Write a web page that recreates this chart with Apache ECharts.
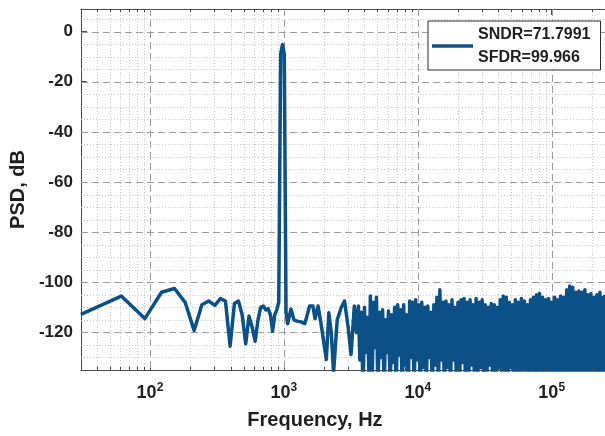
<!DOCTYPE html>
<html>
<head>
<meta charset="utf-8">
<script src="https://cdn.jsdelivr.net/npm/echarts@6/dist/echarts.min.js"></script>
<style>
html, body { margin: 0; padding: 0; background: #fff; }
#chart { width: 605px; height: 436px; }
</style>
</head>
<body>
<div id="chart"></div>
<script>
// FFT bin width: 500 kS/s sampled, 16384-point FFT
const BIN_HZ = 500000 / 16384;

// Low-frequency bins (individually resolved part of the spectrum)
const lowBins = [1, 2, 3, 4, 5, 6, 7, 8, 9, 10, 11, 12, 13, 14, 15, 16, 17, 18, 19, 20,
  21, 22, 23, 24, 25, 26, 27, 28, 29, 30, 31, 32, 33, 34, 35, 37, 39, 41, 44, 47,
  51, 54, 56, 59, 62, 68, 71, 74, 77, 82, 88, 93, 99, 104, 110, 114];
const lowDb = [-112.8, -105.5, -114.5, -104, -102.5, -108, -119.2, -109, -107.5, -109.2,
  -106.5, -107.5, -125.5, -108.5, -107.5, -113, -124.5, -113.5, -118, -123.5,
  -115, -110, -109.5, -111, -110.5, -113, -119.5, -113, -111, -108,
  -9, -5.2, -9, -112, -116.5, -110.7, -115, -115.5, -115.8, -116.5,
  -109.5, -109.5, -114.5, -109.5, -116.3, -130.8, -112.2, -120, -136, -115,
  -110, -107.5, -118, -128.8, -109.5, -120];

// Noise floor bins above ~3.5 kHz (alternating local maxima / minima)
const noiseBins = [118, 121, 124, 128, 131, 134, 138, 142, 145, 149,
  153, 157, 161, 165, 170, 174, 179, 184, 188, 193,
  198, 204, 209, 214, 220, 226, 232, 238, 244, 251,
  257, 264, 271, 278, 285, 293, 300, 308, 316, 325,
  333, 342, 351, 360, 370, 379, 389, 400, 410, 421,
  432, 443, 455, 467, 479, 492, 505, 518, 532, 546,
  560, 575, 590, 605, 621, 638, 654, 672, 689, 707,
  726, 745, 765, 785, 805, 827, 848, 871, 893, 917,
  941, 966, 991, 1017, 1044, 1071, 1100, 1128, 1158, 1189,
  1220, 1252, 1285, 1319, 1353, 1389, 1425, 1463, 1501, 1541,
  1581, 1623, 1666, 1709, 1754, 1801, 1848, 1897, 1946, 1998,
  2050, 2104, 2159, 2216, 2274, 2334, 2396, 2459, 2523, 2590,
  2658, 2728, 2799, 2873, 2949, 3026, 3106, 3188, 3271, 3357,
  3446, 3536, 3629, 3725, 3823, 3923, 4026, 4132, 4241, 4353,
  4467, 4585, 4705, 4829, 4956, 5086, 5220, 5357, 5498, 5643,
  5791, 5943, 6100, 6260, 6425, 6594, 6767, 6945, 7128, 7315,
  7508, 7705, 7908, 8116, 8192];
const noiseDb = [
  -109.5, -131, -112, -145, -110, -128, -114, -140, -105.5, -145,
  -108, -126, -106, -145, -112, -130, -111, -145, -115, -128,
  -111.5, -145, -113, -132, -110, -145, -109, -129, -111, -145,
  -109, -133, -113, -145, -107.5, -130, -108, -145, -107, -131,
  -109, -145, -108, -134, -110, -145, -109.5, -130, -112, -145,
  -109, -133, -106, -145, -103, -131, -108, -145, -107.5, -134,
  -109, -145, -107, -131, -110, -145, -108, -145, -107, -132,
  -106.5, -145, -108, -145, -107, -133, -109, -145, -106.5, -145,
  -108, -134, -107, -145, -109, -145, -110, -133, -108.5, -145,
  -109, -145, -110, -134, -107, -145, -105.5, -145, -106, -145,
  -108, -134, -109, -145, -107, -145, -108, -145, -106.5, -135,
  -107.5, -145, -109, -145, -107, -145, -106, -145, -105, -145,
  -104.5, -145, -106, -145, -107, -145, -106.5, -145, -108, -145,
  -106, -145, -107, -145, -105.5, -145, -106, -145, -103, -145,
  -101.5, -145, -102, -145, -104, -145, -103.5, -145, -104, -145,
  -103, -145, -105, -145, -104.5, -145, -106, -145, -105, -145,
  -104, -145, -106, -145, -105];

const SNDR = '71.7991';
const SFDR = '99.966';

// Grid positions
const xMajor = [100, 1000, 10000, 100000];
const xMinor = [40, 50, 60, 70, 80, 90,
  200, 300, 400, 500, 600, 700, 800, 900,
  2000, 3000, 4000, 5000, 6000, 7000, 8000, 9000,
  20000, 30000, 40000, 50000, 60000, 70000, 80000, 90000, 200000];
const yMajor = [0, -20, -40, -60, -80, -100, -120];
const yMinor = [5, -5, -10, -15, -25, -30, -35, -45, -50, -55, -65, -70, -75,
  -85, -90, -95, -105, -110, -115, -125, -130];

const X_MIN = BIN_HZ, X_MAX = 250000, Y_MIN = -135, Y_MAX = 9;
const FONT = '"Liberation Sans", Arial, Helvetica, sans-serif';
const INK = '#1f1f1f';
const AXIS = '#4a4a4a';
const LINE = '#0b5087';

const psd = [];
lowBins.forEach((k, i) => psd.push([k * BIN_HZ, lowDb[i]]));
noiseBins.forEach((k, i) => psd.push([k * BIN_HZ, noiseDb[i]]));

function gridSeries(values, vertical, style) {
  return {
    type: 'custom', silent: true, z: 1, animation: false, clip: true,
    data: values.map(v => vertical ? [v, -60] : [1000, v]),
    encode: { x: 0, y: 1 },
    renderItem: (params, api) => {
      const cs = params.coordSys;
      const p = api.coord([api.value(0), api.value(1)]);
      let shape;
      if (vertical) {
        const x = Math.round(p[0]) + 0.5;
        shape = { x1: x, y1: cs.y, x2: x, y2: cs.y + cs.height };
      } else {
        const y = Math.round(p[1]) + 0.5;
        shape = { x1: cs.x, y1: y, x2: cs.x + cs.width, y2: y };
      }
      return { type: 'line', shape, style: Object.assign({ fill: null }, style) };
    }
  };
}

// Short inward minor ticks on the bottom and top frame lines
const minorTicks = {
  type: 'custom', silent: true, z: 4, animation: false,
  data: xMinor.map(v => [v, -60]),
  encode: { x: 0, y: 1 },
  renderItem: (params, api) => {
    const cs = params.coordSys;
    const x = Math.round(api.coord([api.value(0), api.value(1)])[0]) + 0.5;
    const st = { stroke: AXIS, lineWidth: 1 };
    return { type: 'group', children: [
      { type: 'line', shape: { x1: x, y1: cs.y + cs.height, x2: x, y2: cs.y + cs.height - 3 }, style: st },
      { type: 'line', shape: { x1: x, y1: cs.y, x2: x, y2: cs.y + 3 }, style: st }
    ] };
  }
};

const xLabelFmt = v => {
  const e = Math.log10(v);
  const r = Math.round(e);
  return Math.abs(e - r) < 1e-6 ? `{b|10}{s|${r}}` : '';
};

const chart = echarts.init(document.getElementById('chart'), null, { renderer: 'canvas' });
chart.setOption({
  animation: false,
  backgroundColor: '#fff',
  grid: { left: 79, right: 0, top: 9, bottom: 66, containLabel: false },
  legend: {
    data: ['psd'], left: 428, top: 21, orient: 'vertical',
    icon: 'rect', itemWidth: 41, itemHeight: 3.5,
    backgroundColor: '#fff', borderColor: '#2a2a2a', borderWidth: 1, borderRadius: 0,
    padding: [2, 10, 1, 4], selectedMode: false,
    formatter: () => `SNDR=${SNDR}\nSFDR=${SFDR}`,
    textStyle: { fontFamily: FONT, fontSize: 16, fontWeight: 'bold', color: INK, lineHeight: 23 }
  },
  xAxis: [{
    type: 'log', logBase: 10, min: X_MIN, max: X_MAX, position: 'bottom',
    name: 'Frequency, Hz', nameLocation: 'middle', nameGap: 40,
    nameTextStyle: { fontFamily: FONT, fontSize: 20, fontWeight: 'bold', color: INK, padding: [0, 56, 0, 0] },
    axisLine: { show: true, onZero: false, lineStyle: { color: AXIS, width: 1 } },
    axisTick: { show: true, inside: true, length: 6, lineStyle: { color: AXIS } },
    splitLine: { show: false }, minorTick: { show: false },
    axisLabel: {
      margin: 12, formatter: xLabelFmt, showMinLabel: false, showMaxLabel: false,
      rich: {
        b: { fontFamily: FONT, fontSize: 18, fontWeight: 'bold', color: INK },
        s: { fontFamily: FONT, fontSize: 12, fontWeight: 'bold', color: INK, padding: [0, 0, 10, 0] }
      }
    }
  }, {
    type: 'log', logBase: 10, min: X_MIN, max: X_MAX, position: 'top',
    axisLine: { show: true, onZero: false, lineStyle: { color: AXIS, width: 1 } },
    axisTick: { show: true, inside: true, length: 6, lineStyle: { color: AXIS } },
    axisLabel: { show: false }, splitLine: { show: false }
  }],
  yAxis: {
    type: 'value', min: Y_MIN, max: Y_MAX, position: 'left',
    name: 'PSD, dB', nameLocation: 'middle', nameGap: 48, nameRotate: 90,
    nameTextStyle: { fontFamily: FONT, fontSize: 20, fontWeight: 'bold', color: INK },
    axisLine: { show: true, onZero: false, lineStyle: { color: AXIS, width: 1 } },
    axisTick: { show: true, inside: true, length: 6, customValues: yMajor, lineStyle: { color: AXIS } },
    axisLabel: { margin: 8, customValues: yMajor, fontFamily: FONT, fontSize: 17, fontWeight: 'bold', color: INK },
    splitLine: { show: false }
  },
  series: [
    gridSeries(xMinor, true, { stroke: '#c6c6c6', lineWidth: 1, lineDash: [1, 2] }),
    gridSeries(yMinor, false, { stroke: '#c6c6c6', lineWidth: 1, lineDash: [1, 2] }),
    gridSeries(xMajor, true, { stroke: '#9c9c9c', lineWidth: 1, lineDash: [7, 4] }),
    gridSeries(yMajor, false, { stroke: '#9c9c9c', lineWidth: 1, lineDash: [7, 4] }),
    minorTicks,
    {
      name: 'psd', type: 'line', data: psd, symbol: 'none', z: 3, clip: true,
      lineStyle: { color: LINE, width: 3.5, join: 'round' },
      itemStyle: { color: LINE }
    }
  ]
});
</script>
</body>
</html>
